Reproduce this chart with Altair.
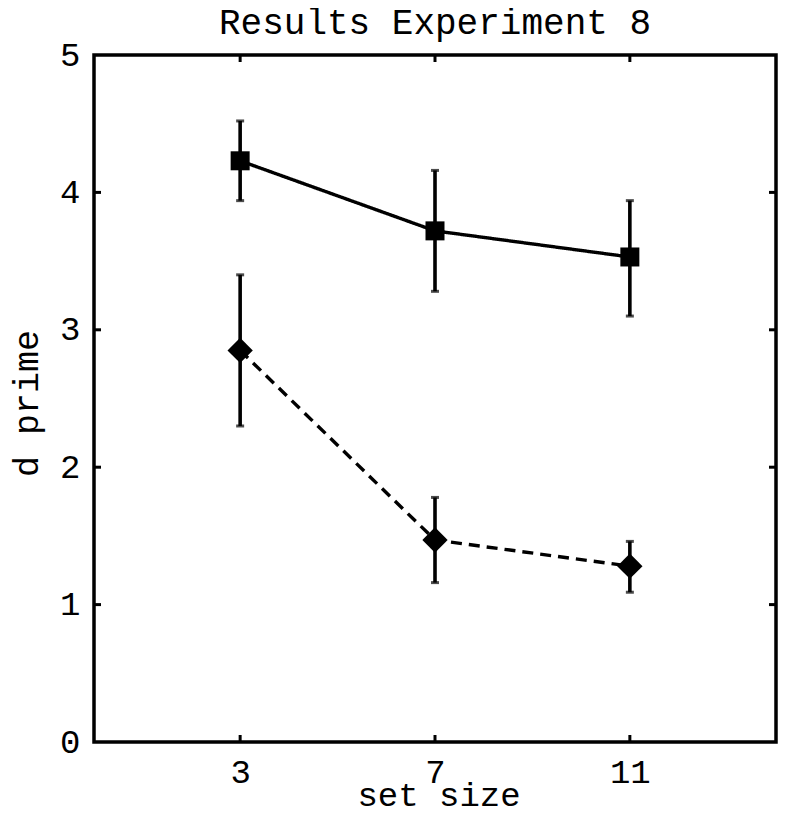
import altair as alt
import pandas as pd

# data
set_size = [3, 7, 11]
sq_mean = [4.23, 3.72, 3.53]
sq_lo = [3.94, 3.28, 3.10]
sq_hi = [4.52, 4.16, 3.94]
di_mean = [2.85, 1.47, 1.28]
di_lo = [2.30, 1.16, 1.09]
di_hi = [3.40, 1.78, 1.46]
x_ticks = [3, 7, 11]
y_ticks = [0, 1, 2, 3, 4, 5]

W = 682
H = 687
LEFT = 86
TOP = 47
FONT = "Liberation Mono"

sq = pd.DataFrame({"x": set_size, "y": sq_mean, "lo": sq_lo, "hi": sq_hi})
di = pd.DataFrame({"x": set_size, "y": di_mean, "lo": di_lo, "hi": di_hi})

xs = alt.Scale(domain=[0, 14], nice=False, zero=False)
ys = alt.Scale(domain=[0, 5], nice=False, zero=False)

xax = alt.Axis(values=x_ticks, format="d", ticks=False, domain=False, grid=False,
               labelFontSize=34, labelFont=FONT, labelColor="black", labelPadding=13,
               titleFontSize=34, titleFont=FONT, titleFontWeight="normal", titleColor="black",
               titleBaseline="alphabetic", titleAlign="center", titleY=63, titleX=344.5)
yax = alt.Axis(values=y_ticks, format="d", ticks=False, domain=False, grid=False,
               labelFontSize=34, labelFont=FONT, labelColor="black", labelPadding=14,
               titleFontSize=35, titleFont=FONT, titleFontWeight="normal", titleColor="black",
               titleAngle=270, titleBaseline="middle", titleAlign="center",
               titleX=-68, titleY=348)

def layer_for(df, shape, size, dash):
    base = alt.Chart(df)
    line = base.mark_line(color="black", strokeWidth=3.4, strokeDash=dash).encode(
        x=alt.X("x:Q", scale=xs, axis=xax, title="set size"),
        y=alt.Y("y:Q", scale=ys, axis=yax, title="d prime"),
    )
    bars = base.mark_rule(color="black", strokeWidth=3.6).encode(
        x="x:Q", y="lo:Q", y2="hi:Q")
    cap_lo = base.mark_tick(color="black", orient="horizontal", size=8, thickness=3).encode(
        x="x:Q", y="lo:Q")
    cap_hi = base.mark_tick(color="black", orient="horizontal", size=8, thickness=3).encode(
        x="x:Q", y="hi:Q")
    pts = base.mark_point(shape=shape, filled=True, size=size, color="black", opacity=1).encode(
        x="x:Q", y="y:Q")
    return [line, bars, cap_lo, cap_hi, pts]

xt = pd.DataFrame({"x": x_ticks})
yt = pd.DataFrame({"y": y_ticks[1:-1]})
tick_bottom = alt.Chart(xt).mark_rule(color="black", strokeWidth=3).encode(
    x="x:Q", y=alt.value(H), y2=alt.value(H - 7))
tick_top = alt.Chart(xt).mark_rule(color="black", strokeWidth=3).encode(
    x="x:Q", y=alt.value(0), y2=alt.value(7))
tick_left = alt.Chart(yt).mark_rule(color="black", strokeWidth=3).encode(
    y="y:Q", x=alt.value(0), x2=alt.value(7))
tick_right = alt.Chart(yt).mark_rule(color="black", strokeWidth=3).encode(
    y="y:Q", x=alt.value(W), x2=alt.value(W - 7))

layers = layer_for(sq, "square", 361, [1, 0]) + layer_for(di, "diamond", 640, [11, 7])
layers += [tick_bottom, tick_top, tick_left, tick_right]

chart = alt.layer(*layers).properties(
    width=W, height=H,
    background="white",
    autosize=alt.AutoSizeParams(type="none"),
    padding={"left": LEFT, "top": TOP, "right": 2, "bottom": 70},
    title=alt.TitleParams("Results Experiment 8", font=FONT, fontSize=36,
                          fontWeight="normal", color="black", offset=3, dy=7,
                          anchor="middle"),
).configure_view(stroke="black", strokeWidth=3.5)

chart.save("out.html", embed_options={"renderer": "svg", "actions": False})
